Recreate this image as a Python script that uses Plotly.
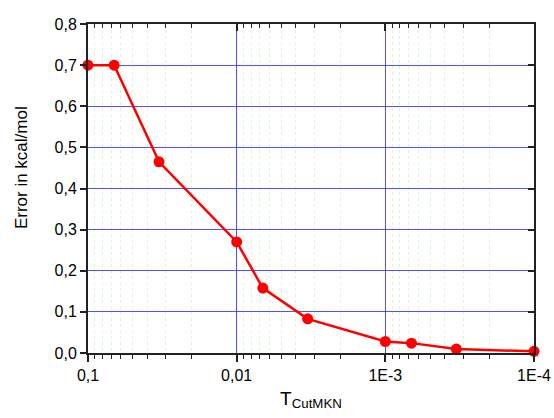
import plotly.graph_objects as go

# Data
t_cut = [0.1, 0.0667, 0.0333, 0.01, 0.00667, 0.00333, 0.001, 0.000667, 0.000333, 0.0001]
error_kcal = [0.70, 0.70, 0.465, 0.27, 0.158, 0.083, 0.028, 0.024, 0.0095, 0.004]

x_tickvals = [0.1, 0.01, 0.001, 0.0001]
x_ticktext = ["0,1", "0,01", "1E-3", "1E-4"]
y_tickvals = [0.0, 0.1, 0.2, 0.3, 0.4, 0.5, 0.6, 0.7, 0.8]
y_ticktext = ["0,0", "0,1", "0,2", "0,3", "0,4", "0,5", "0,6", "0,7", "0,8"]
minor_vals = [m * d for d in [0.01, 0.001, 0.0001] for m in range(2, 10)]

FONT = "Liberation Sans, Arial, sans-serif"
X_RANGE = [-0.99999, -4.00001]

fig = go.Figure()
fig.add_trace(go.Scatter(
    x=t_cut, y=error_kcal, mode="lines+markers",
    line=dict(color="#ff0000", width=2.5),
    marker=dict(color="#ff0000", size=11),
    cliponaxis=False, showlegend=False,
))
# invisible trace to activate the mirrored axes (top / right)
fig.add_trace(go.Scatter(x=[t_cut[3]], y=[error_kcal[3]], xaxis="x2", yaxis="y2",
                         mode="markers", marker=dict(opacity=0), showlegend=False,
                         hoverinfo="skip"))

common_x = dict(
    type="log", range=X_RANGE, tickvals=x_tickvals, ticktext=x_ticktext,
    showline=True, linecolor="#222222", linewidth=2, ticklen=7, tickwidth=1.5,
    tickcolor="#222222", automargin=False,
)
fig.update_layout(
    width=554, height=418,
    margin=dict(l=88, r=20, t=24, b=65),
    paper_bgcolor="white", plot_bgcolor="white",
    font=dict(family=FONT, size=16, color="black"),
    xaxis=dict(
        **common_x, ticks="outside", showgrid=True,
        gridcolor="rgba(50,50,255,0.85)", gridwidth=1,
        tickfont=dict(size=16), zeroline=False,
        minor=dict(tickvals=minor_vals, ticks="outside", ticklen=4,
                   tickcolor="#222222", tickwidth=1.2,
                   showgrid=True, gridcolor="rgba(170,235,170,0.45)",
                   griddash="dot", gridwidth=1),
        title=dict(text="T<sub>CutMKN</sub>", font=dict(size=19), standoff=8),
        layer="above traces",
    ),
    xaxis2=dict(
        **common_x, overlaying="x", side="top", ticks="inside",
        showticklabels=False, showgrid=False, zeroline=False,
        minor=dict(tickvals=minor_vals, ticks="inside", ticklen=4,
                   tickcolor="#222222", tickwidth=1.2, showgrid=False),
        layer="above traces",
    ),
    yaxis=dict(
        range=[0, 0.8], tickvals=y_tickvals, ticktext=y_ticktext,
        ticks="outside", ticklen=6, tickwidth=1.5, tickcolor="#222222",
        showline=True, linecolor="#222222", linewidth=2,
        showgrid=True, gridcolor="rgba(50,50,255,0.85)", gridwidth=1,
        zeroline=False, tickfont=dict(size=16), automargin=False,
        layer="above traces",
    ),
    yaxis2=dict(
        range=[0, 0.8], tickvals=y_tickvals, overlaying="y", side="right",
        ticks="inside", ticklen=6, tickwidth=1.5, tickcolor="#222222",
        showline=True, linecolor="#222222", linewidth=2, automargin=False,
        showticklabels=False, showgrid=False, zeroline=False,
        layer="above traces",
    ),
    annotations=[dict(
        text="Error in kcal/mol", textangle=-90, showarrow=False,
        xref="paper", yref="paper", x=0, y=0.562, xanchor="center",
        yanchor="middle", xshift=-67, font=dict(size=17, family=FONT),
    )],
)

fig.write_html("out.html")
